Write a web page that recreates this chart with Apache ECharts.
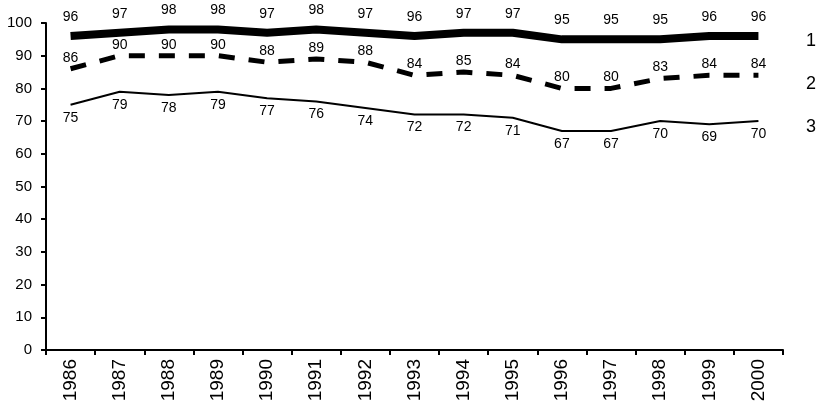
<!DOCTYPE html>
<html>
<head>
<meta charset="utf-8">
<script src="https://cdn.jsdelivr.net/npm/echarts@6/dist/echarts.min.js"></script>
<style>html,body{margin:0;padding:0;background:#fff}#c{width:818px;height:413px}</style>
</head>
<body>
<div id="c"></div>
<script>
const years = ['1986','1987','1988','1989','1990','1991','1992','1993','1994','1995','1996','1997','1998','1999','2000'];
const series1 = [96,97,98,98,97,98,97,96,97,97,95,95,95,96,96];
const series2 = [86,90,90,90,88,89,88,84,85,84,80,80,83,84,84];
const series3 = [75,79,78,79,77,76,74,72,72,71,67,67,70,69,70];
const yTicks = [0,10,20,30,40,50,60,70,80,90,100];

const font = 'Liberation Sans, Arial, sans-serif';
const chart = echarts.init(document.getElementById('c'));
const lbl = (pos, dist) => ({show: true, position: pos, distance: dist, color: '#000', fontSize: 14, fontFamily: font});
chart.setOption({
  animation: false,
  textStyle: {fontFamily: font},
  grid: {left: 46, right: 35, top: 23, bottom: 63, containLabel: false},
  legend: {
    orient: 'vertical', right: -3, top: 27, itemGap: 25,
    itemWidth: 0, itemHeight: 0, icon: 'none',
    textStyle: {fontFamily: font, fontSize: 18, color: '#000'},
    data: ['1','2','3']
  },
  xAxis: {
    type: 'category', data: years, boundaryGap: true,
    axisLine: {lineStyle: {color: '#000', width: 2}},
    axisTick: {show: true, length: 5, lineStyle: {color: '#000', width: 2}},
    axisLabel: {rotate: 90, color: '#000', fontSize: 19, fontFamily: font, margin: 9}
  },
  yAxis: {
    type: 'value', min: yTicks[0], max: yTicks[yTicks.length-1], interval: 10,
    axisLine: {show: true, lineStyle: {color: '#000', width: 2}},
    axisTick: {show: true, length: 5, lineStyle: {color: '#000', width: 2}},
    splitLine: {show: false},
    axisLabel: {color: '#000', fontSize: 15, fontFamily: font, margin: 14}
  },
  series: [
    {name: '1', type: 'line', data: series1, symbol: 'circle', symbolSize: 0, showSymbol: true, color: '#000',
     lineStyle: {color: '#000', width: 8}, label: lbl('top', 12)},
    {name: '2', type: 'line', data: series2, symbol: 'circle', symbolSize: 0, showSymbol: true, color: '#000',
     lineStyle: {color: '#000', width: 5, type: [16, 14]}, label: lbl('top', 4)},
    {name: '3', type: 'line', data: series3, symbol: 'circle', symbolSize: 0, showSymbol: true, color: '#000',
     lineStyle: {color: '#000', width: 2}, label: lbl('bottom', 6)}
  ]
});
</script>
</body>
</html>
